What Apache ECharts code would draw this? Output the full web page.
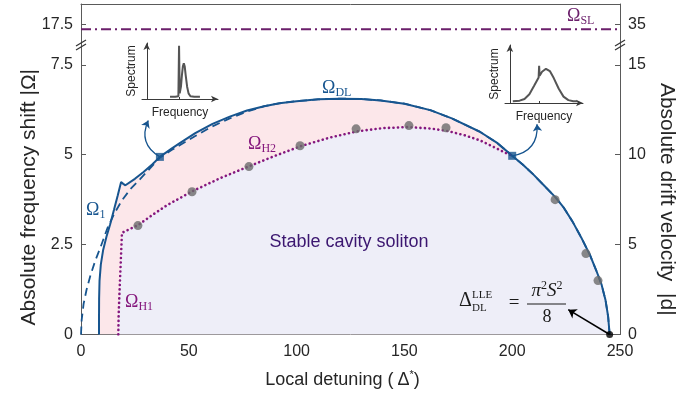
<!DOCTYPE html>
<html>
<head>
<meta charset="utf-8">
<script src="https://cdn.jsdelivr.net/npm/echarts@6/dist/echarts.min.js"></script>
<style>
  html, body { margin: 0; padding: 0; background: #ffffff; }
  #chart { width: 697px; height: 394px; }
</style>
</head>
<body>
<div id="chart"></div>
<script>
// ---- data ---------------------------------------------------------------
// Omega_1 branch (solid) rising from the axis up to the kink
const omega1Branch = [[8.35,0],[8.36,0.5],[8.4,1.0],[8.6,1.5],[9.2,1.95],[10.3,2.36],[11.8,2.72],[13.5,3.06],[15.3,3.47],[17.0,3.86],[18.6,4.24],[19.6,4.19],[20.6,4.15]];
// Omega_DL upper boundary (solid), left of the right-hand marker
const dlUpper = [[21.3,4.17],[25,4.33],[29,4.52],[33,4.73],[36.6,4.94],[42,5.17],[46,5.33],[53,5.6],[61,5.86],[69,6.06],[77,6.23],[85,6.35],[92,6.43],[100,6.49],[110,6.54],[120,6.56],[130,6.55],[139,6.51],[150,6.42],[162,6.24],[172,6.01],[185,5.64],[193,5.33]];
// Omega_DL falling edge down to the end point
const dlRight = [[200,4.97],[205,4.72],[210,4.44],[215,4.13],[220,3.82],[224,3.52],[228,3.14],[232,2.7],[236,2.22],[239,1.78],[241.5,1.38],[243.3,0.95],[244.5,0.5],[245.2,0]];
// dashed LLE estimate of Omega_DL (left part, it joins the solid curve afterwards)
const dashedLeft = [[0,0],[0.3,0.4],[1.2,0.85],[2.6,1.25],[4.4,1.65],[6.6,2.05],[9.2,2.45],[12.2,2.95],[15.5,3.37],[19,3.73],[23,4.05],[27.4,4.32],[32,4.62],[36.6,4.92],[42,5.13],[46,5.27],[53,5.52],[61,5.79],[69,6.01],[77,6.2]];
// Omega_H1 (vertical) and Omega_H2 (upper) Hopf boundaries, dotted
const hopfBoundary = [[17.3,0],[17.45,0.5],[17.75,1.0],[18.15,1.6],[18.6,2.25],[19,2.83],[26.4,3.04],[33,3.32],[40,3.6],[51.5,3.98],[65,4.36],[78,4.68],[90,4.97],[102,5.24],[115,5.47],[128,5.65],[140,5.74],[152,5.77],[162,5.73],[170,5.66],[178,5.54],[185,5.4],[192,5.2],[197,5.05],[200,4.97]];
// simulated points
const simX = [26.4, 51.5, 77.9, 101.6, 127.6, 152.1, 169.3, 219.9, 234.2, 239.8];
const simY = [3.03, 3.97, 4.67, 5.25, 5.72, 5.81, 5.75, 3.75, 2.25, 1.5];
// marked detunings whose spectra are shown in the insets
const markX = [36.6, 200];
const markY = [4.94, 4.97];
// Omega_DL^LLE end point
const endX = [245.2];
const endY = [0];
// Omega_SL level (upper panel)
const omegaSL = 17.36;
// ticks
const leftTicks = [0, 2.5, 5, 7.5];
const rightTicks = [0, 5, 10, 15];
const topLeftTicks = [17.5];
const topRightTicks = [35];
// inset spectra
const spectrumA = [[2.45,0.04],[3.0,0.04],[3.33,0.05],[3.4,0.95],[3.47,0.1],[3.6,0.22],[3.7,0.42],[3.8,0.58],[3.9,0.64],[4.0,0.58],[4.1,0.42],[4.25,0.22],[4.4,0.1],[4.6,0.05],[5.0,0.04],[5.6,0.04]];
const spectrumB = [[0.3,0.03],[1.0,0.04],[1.5,0.07],[2.0,0.15],[2.5,0.3],[2.95,0.44],[3.0,0.64],[3.05,0.47],[3.3,0.54],[3.7,0.59],[4.1,0.55],[4.5,0.43],[5.0,0.25],[5.5,0.11],[6.0,0.05],[6.5,0.03],[6.9,0.03]];
const spectrumTickA = [3.4];
const spectrumTickB = [3.0];

// ---- styling ------------------------------------------------------------
const BLUE = '#17558f';
const PURPLE = '#85177d';
const SLCOL = '#6b1f6b';
const PINK = '#fce7ea';
const LAV = '#eeeef8';
const GREY = '#6b6b6b';
const AX = '#5a5a5a';
const TXT = '#262626';
const SANS = '"Liberation Sans", Arial, Helvetica, sans-serif';
const SERIF = '"Liberation Serif", "DejaVu Serif", serif';

const outerCurve = omega1Branch.concat(dlUpper, dlRight);
const innerCurve = hopfBoundary.concat(dlRight.slice(1));
const dashedCurve = dashedLeft.concat(dlUpper.filter(p => p[0] > 77), dlRight);
const xy = (xs, ys) => xs.map((x, i) => [x, ys[i]]);

const tickLine = { lineStyle: { color: AX, width: 1 } };
const axisLine = { show: true, onZero: false, lineStyle: { color: AX, width: 1 } };
const labelStyle = { color: TXT, fontSize: 16, fontFamily: SANS };

function mainY(opts) {
  return Object.assign({
    type: 'value',
    axisLine: axisLine,
    splitLine: { show: false },
    axisTick: Object.assign({ inside: true, length: 5 }, tickLine),
    axisLabel: Object.assign({ margin: 8 }, labelStyle)
  }, opts);
}

function insetX(grid, ticks) {
  return {
    gridIndex: grid, type: 'value', min: -0.5, max: 7.5,
    axisLine: { show: true, onZero: false, symbol: ['none', 'arrow'], symbolSize: [5, 7], lineStyle: { color: '#3a3a3a', width: 1 } },
    axisTick: { show: true, inside: true, length: 2, customValues: ticks, lineStyle: { color: '#3a3a3a' } },
    axisLabel: { show: false }, splitLine: { show: false },
    name: 'Frequency', nameLocation: 'middle', nameGap: 8,
    nameTextStyle: { color: TXT, fontSize: 12, fontFamily: SANS }
  };
}
function insetY(grid) {
  return {
    gridIndex: grid, type: 'value', min: 0, max: 1,
    axisLine: { show: true, onZero: true, symbol: ['none', 'arrow'], symbolSize: [5, 7], lineStyle: { color: '#3a3a3a', width: 1 } },
    axisTick: { show: false }, axisLabel: { show: false }, splitLine: { show: false },
    name: 'Spectrum', nameLocation: 'middle', nameGap: 4, nameRotate: 90,
    nameTextStyle: { color: TXT, fontSize: 12, fontFamily: SANS }
  };
}

const option = {
  animation: false,
  backgroundColor: '#ffffff',
  grid: [
    { left: 81, right: 77, top: 44, bottom: 59 },   // main panel
    { left: 81, right: 77, top: 4, height: 40 },     // upper panel beyond the axis break
    { left: 142, top: 43, width: 76, height: 56 },   // inset at the left marker
    { left: 505, top: 45, width: 78, height: 58 }    // inset at the right marker
  ],
  xAxis: [
    {
      gridIndex: 0, type: 'value', min: 0, max: 250, interval: 50,
      axisLine: axisLine,
      axisTick: Object.assign({ inside: true, length: 5 }, tickLine),
      axisLabel: Object.assign({ margin: 9 }, labelStyle),
      splitLine: { show: false },
      name: '{t|Local detuning (}{d|Δ}{s|*}{t|)}', nameLocation: 'middle', nameGap: 35,
      nameTextStyle: {
        padding: [0, 16, 0, 0],
        rich: {
          t: { fontSize: 18, fontFamily: SANS, color: TXT, lineHeight: 21 },
          d: { fontSize: 18, fontFamily: SANS, color: TXT, lineHeight: 21, padding: [0, 0, 0, 4] },
          s: { fontSize: 11, fontFamily: SANS, color: TXT, lineHeight: 13, verticalAlign: 'top' }
        }
      }
    },
    {
      gridIndex: 1, type: 'value', min: 0, max: 250, position: 'top',
      axisLine: axisLine, axisTick: { show: false }, axisLabel: { show: false }, splitLine: { show: false }
    },
    insetX(2, spectrumTickA),
    insetX(3, spectrumTickB)
  ],
  yAxis: [
    mainY({
      gridIndex: 0, position: 'left', min: 0, max: 8.08,
      axisTick: Object.assign({ inside: true, length: 5, customValues: leftTicks }, tickLine),
      axisLabel: Object.assign({ margin: 8, customValues: leftTicks }, labelStyle),
      name: 'Absolute frequency shift |Ω|', nameLocation: 'middle', nameGap: 40, nameRotate: 90,
      nameTextStyle: { color: TXT, fontSize: 21, fontFamily: SANS, padding: [0, 16, 0, 0] }
    }),
    mainY({
      gridIndex: 0, position: 'right', min: 0, max: 16.16,
      axisTick: Object.assign({ inside: true, length: 5, customValues: rightTicks }, tickLine),
      axisLabel: Object.assign({ margin: 8, customValues: rightTicks }, labelStyle),
      name: 'Absolute drift velocity  |d|', nameLocation: 'middle', nameGap: 32, nameRotate: -90,
      nameTextStyle: { color: TXT, fontSize: 21, fontFamily: SANS, padding: [0, 0, 0, 20] }
    }),
    mainY({
      gridIndex: 1, position: 'left', min: 16.95, max: 18.06,
      axisTick: Object.assign({ inside: true, length: 5, customValues: topLeftTicks }, tickLine),
      axisLabel: Object.assign({ margin: 8, customValues: topLeftTicks }, labelStyle)
    }),
    mainY({
      gridIndex: 1, position: 'right', min: 33.9, max: 36.12,
      axisTick: Object.assign({ inside: true, length: 5, customValues: topRightTicks }, tickLine),
      axisLabel: Object.assign({ margin: 8, customValues: topRightTicks }, labelStyle)
    }),
    insetY(2),
    insetY(3)
  ],
  series: [
    { // region between Omega_1 / Omega_DL and the Hopf boundaries
      type: 'line', xAxisIndex: 0, yAxisIndex: 0, data: outerCurve, symbol: 'none', silent: true,
      lineStyle: { width: 0, opacity: 0 }, areaStyle: { color: PINK, opacity: 1 }, z: 1
    },
    { // stable cavity soliton region
      type: 'line', xAxisIndex: 0, yAxisIndex: 0, data: innerCurve, symbol: 'none', silent: true,
      lineStyle: { width: 0, opacity: 0 }, areaStyle: { color: LAV, opacity: 1 }, z: 1
    },
    { // LLE estimate
      type: 'line', xAxisIndex: 0, yAxisIndex: 0, data: dashedCurve, symbol: 'none', silent: true,
      lineStyle: { color: BLUE, width: 1.8, type: [8, 5] }, z: 3
    },
    { // Omega_1 and Omega_DL
      type: 'line', xAxisIndex: 0, yAxisIndex: 0, data: outerCurve, symbol: 'none', silent: true,
      lineStyle: { color: BLUE, width: 2 }, z: 4
    },
    { // Omega_H1 / Omega_H2
      type: 'line', xAxisIndex: 0, yAxisIndex: 0, data: hopfBoundary, symbol: 'none', silent: true,
      lineStyle: { color: PURPLE, width: 2.6, type: [0.1, 4.4], cap: 'round' }, z: 5
    },
    {
      type: 'scatter', xAxisIndex: 0, yAxisIndex: 0, data: xy(simX, simY), symbol: 'circle', symbolSize: 9,
      itemStyle: { color: GREY }, silent: true, z: 6
    },
    {
      type: 'scatter', xAxisIndex: 0, yAxisIndex: 0, data: xy(markX, markY), symbol: 'rect', symbolSize: 8,
      itemStyle: { color: BLUE }, silent: true, z: 7
    },
    {
      type: 'scatter', xAxisIndex: 0, yAxisIndex: 0, data: xy(endX, endY), symbol: 'circle', symbolSize: 7,
      itemStyle: { color: '#000000' }, silent: true, z: 7, clip: false
    },
    { // arrows from the markers to the spectra
      type: 'lines', coordinateSystem: 'cartesian2d', xAxisIndex: 0, yAxisIndex: 0, silent: true,
      symbol: ['none', 'arrow'], symbolSize: 7, z: 6,
      lineStyle: { color: BLUE, width: 1.3, opacity: 1 },
      data: [
        { coords: [[markX[0], markY[0]], [31.2, 5.95]], lineStyle: { curveness: 0.45 } },
        { coords: [[markX[1], markY[1]], [211.5, 5.85]], lineStyle: { curveness: -0.45 } }
      ]
    },
    { // pointer to the end point
      type: 'lines', coordinateSystem: 'cartesian2d', xAxisIndex: 0, yAxisIndex: 0, silent: true,
      symbol: ['none', 'arrow'], symbolSize: 8, z: 6,
      lineStyle: { color: '#000000', width: 1.5, opacity: 1, curveness: 0 },
      data: [{ coords: [[endX[0], endY[0]], [226, 0.69]] }]
    },
    { // Omega_SL
      type: 'line', xAxisIndex: 1, yAxisIndex: 2, data: [[0, omegaSL], [250, omegaSL]], symbol: 'none', silent: true,
      lineStyle: { color: SLCOL, width: 1.8, type: [10, 4, 2, 4] }
    },
    {
      type: 'line', xAxisIndex: 2, yAxisIndex: 4, data: spectrumA, symbol: 'none', silent: true,
      lineStyle: { color: '#555555', width: 2 }
    },
    {
      type: 'line', xAxisIndex: 3, yAxisIndex: 5, data: spectrumB, symbol: 'none', silent: true,
      lineStyle: { color: '#555555', width: 2 }
    }
  ]
};

const chart = echarts.init(document.getElementById('chart'), null, { renderer: 'canvas', width: 697, height: 394 });
chart.setOption(option);

// ---- annotations ------------------------------------------------------------
const omegaRich = (col) => ({
  o: { fontSize: 18, fontFamily: SERIF, fill: col, lineHeight: 22 },
  s: { fontSize: 12, fontFamily: SERIF, fill: col, lineHeight: 12, verticalAlign: 'bottom' }
});
function omegaLabel(x, y, sub, col) {
  return { type: 'text', x: x, y: y, z: 50, silent: true,
    style: { text: '{o|Ω}{s|' + sub + '}', rich: omegaRich(col), verticalAlign: 'middle', align: 'left' } };
}
function breakMark(x, y) {
  return [0, 4].map(d => ({ type: 'line', z: 50, silent: true,
    shape: { x1: x - 5, y1: y + 2 + d, x2: x + 5, y2: y - 4 + d },
    style: { stroke: '#333333', lineWidth: 1.2 } }));
}
const mathFont = (size, style) => ({ fontSize: size, fontFamily: SERIF, fontStyle: style || 'normal', fill: '#1a1a1a' });

chart.setOption({
  graphic: [
    omegaLabel(322, 88, 'DL', BLUE),
    omegaLabel(248, 144, 'H2', PURPLE),
    omegaLabel(86, 210, '1', BLUE),
    omegaLabel(125, 302, 'H1', PURPLE),
    omegaLabel(567, 16, 'SL', SLCOL),
    { type: 'text', x: 349, y: 242, z: 50, silent: true,
      style: { text: 'Stable cavity soliton', fontSize: 18, fontFamily: SANS, fill: '#3b1670', align: 'center', verticalAlign: 'middle' } },
    // Delta_DL^LLE = pi^2 S^2 / 8
    { type: 'text', x: 459, y: 301, z: 50, silent: true,
      style: Object.assign({ text: 'Δ', align: 'left', verticalAlign: 'middle' }, mathFont(20)) },
    { type: 'text', x: 472, y: 295, z: 50, silent: true,
      style: Object.assign({ text: 'LLE', align: 'left', verticalAlign: 'middle' }, mathFont(11)) },
    { type: 'text', x: 472, y: 308, z: 50, silent: true,
      style: Object.assign({ text: 'DL', align: 'left', verticalAlign: 'middle' }, mathFont(11)) },
    { type: 'text', x: 514, y: 303, z: 50, silent: true,
      style: Object.assign({ text: '=', align: 'center', verticalAlign: 'middle' }, mathFont(19)) },
    { type: 'text', x: 547, y: 291, z: 50, silent: true,
      style: {
        text: '{i|π}{p|2}{i|S}{p|2}', align: 'center', verticalAlign: 'middle',
        rich: {
          i: Object.assign({ lineHeight: 22 }, mathFont(19, 'italic')),
          p: Object.assign({ lineHeight: 12, verticalAlign: 'top' }, mathFont(12))
        }
      } },
    { type: 'line', z: 50, silent: true, shape: { x1: 527, y1: 304, x2: 566, y2: 304 },
      style: { stroke: '#1a1a1a', lineWidth: 1 } },
    { type: 'text', x: 547, y: 317, z: 50, silent: true,
      style: Object.assign({ text: '8', align: 'center', verticalAlign: 'middle' }, mathFont(18)) }
  ].concat(breakMark(81, 44), breakMark(620, 44))
});
</script>
</body>
</html>
